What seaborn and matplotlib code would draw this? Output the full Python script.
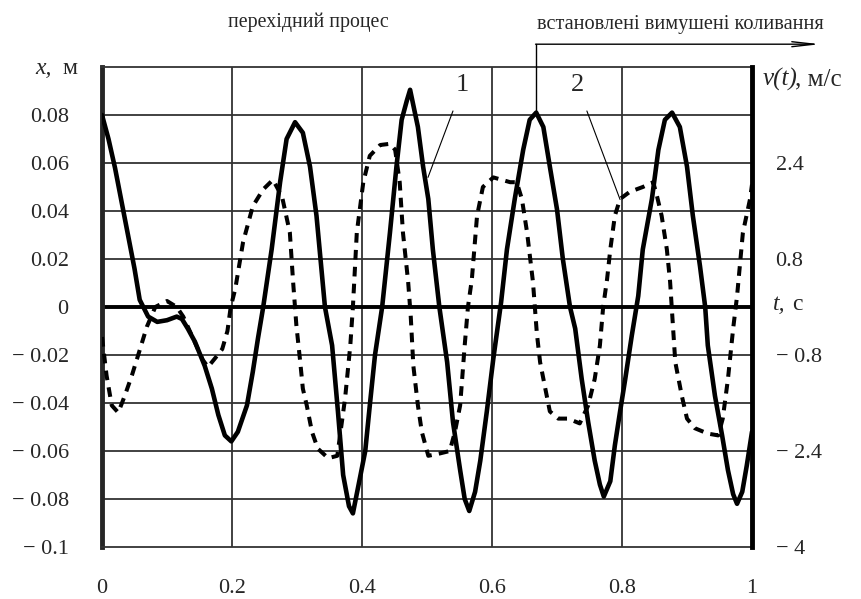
import numpy as np
import pandas as pd
import matplotlib
matplotlib.use("Agg")
import matplotlib.pyplot as plt
import seaborn as sns

# крива 1: переміщення x(t), м
t_x = [0.000, 0.010, 0.020, 0.030, 0.040, 0.050, 0.058, 0.071, 0.085, 0.100,
       0.115, 0.123, 0.132, 0.143, 0.158, 0.169, 0.179, 0.189, 0.199, 0.209,
       0.223, 0.232, 0.240, 0.248, 0.261, 0.274, 0.284, 0.297, 0.309, 0.320,
       0.330, 0.343, 0.354, 0.363, 0.371, 0.380, 0.386, 0.397, 0.405, 0.412,
       0.420, 0.431, 0.443, 0.453, 0.461, 0.469, 0.474, 0.486, 0.494, 0.502,
       0.509, 0.519, 0.531, 0.540, 0.551, 0.558, 0.565, 0.574, 0.582, 0.592,
       0.602, 0.614, 0.623, 0.635, 0.648, 0.658, 0.668, 0.679, 0.689, 0.700,
       0.709, 0.720, 0.728, 0.738, 0.748, 0.758, 0.766, 0.772, 0.782, 0.789,
       0.797, 0.805, 0.815, 0.825, 0.832, 0.846, 0.856, 0.866, 0.877, 0.889,
       0.900, 0.909, 0.920, 0.928, 0.932, 0.943, 0.954, 0.963, 0.971, 0.977,
       0.985, 0.992, 1.000]
x_disp = [0.080, 0.070, 0.058, 0.044, 0.030, 0.016, 0.003, -0.004, -0.0062, -0.0055,
          -0.004, -0.005, -0.009, -0.0145, -0.0245, -0.034, -0.045, -0.0535, -0.056, -0.052,
          -0.041, -0.027, -0.013, 0.000, 0.024, 0.052, 0.070, 0.077, 0.0726, 0.0585,
          0.038, 0.000, -0.016, -0.0436, -0.070, -0.083, -0.086, -0.071, -0.060, -0.041,
          -0.020, 0.000, 0.031, 0.0585, 0.078, 0.086, 0.0905, 0.075, 0.0585, 0.045,
          0.024, 0.000, -0.023, -0.048, -0.068, -0.080, -0.085, -0.077, -0.064, -0.0436,
          -0.0216, 0.002, 0.024, 0.045, 0.0655, 0.078, 0.081, 0.075, 0.0585, 0.0407,
          0.020, 0.000, -0.009, -0.030, -0.048, -0.064, -0.074, -0.079, -0.0726, -0.0577,
          -0.0436, -0.030, -0.012, 0.0046, 0.024, 0.045, 0.0655, 0.078, 0.081, 0.075,
          0.0585, 0.038, 0.017, 0.000, -0.016, -0.037, -0.0535, -0.068, -0.078, -0.082,
          -0.077, -0.066, -0.052]

# крива 2: швидкість v(t), м/с
t_v = [0.000, 0.007, 0.015, 0.025, 0.035, 0.046, 0.054, 0.069, 0.082, 0.100,
       0.115, 0.125, 0.135, 0.145, 0.155, 0.163, 0.175, 0.185, 0.193, 0.198,
       0.205, 0.217, 0.232, 0.248, 0.263, 0.277, 0.289, 0.294, 0.299, 0.305,
       0.309, 0.315, 0.323, 0.332, 0.348, 0.362, 0.368, 0.374, 0.382, 0.386,
       0.392, 0.402, 0.412, 0.428, 0.443, 0.451, 0.458, 0.463, 0.471, 0.475,
       0.479, 0.486, 0.492, 0.502, 0.520, 0.535, 0.543, 0.551, 0.558, 0.563,
       0.569, 0.577, 0.586, 0.602, 0.628, 0.638, 0.646, 0.654, 0.663, 0.669,
       0.674, 0.682, 0.689, 0.702, 0.717, 0.735, 0.748, 0.758, 0.766, 0.771,
       0.777, 0.782, 0.789, 0.797, 0.812, 0.832, 0.848, 0.854, 0.861, 0.869,
       0.874, 0.879, 0.882, 0.892, 0.900, 0.912, 0.932, 0.948, 0.955, 0.963,
       0.971, 0.977, 0.986, 0.997, 1.000]
v_vel = [-0.50, -1.14, -1.64, -1.76, -1.48, -1.14, -0.86, -0.33, 0.00, 0.10,
         0.00, -0.16, -0.40, -0.64, -0.88, -1.00, -0.84, -0.70, -0.40, 0.00,
         0.30, 1.08, 1.68, 1.96, 2.12, 1.84, 1.24, 0.42, -0.30, -0.92,
         -1.36, -1.64, -2.08, -2.36, -2.52, -2.48, -2.00, -1.52, -0.64, 0.00,
         1.24, 2.08, 2.52, 2.70, 2.72, 2.62, 2.08, 1.24, 0.42, -0.16,
         -0.98, -1.64, -2.08, -2.48, -2.44, -2.40, -2.08, -1.64, -0.64, 0.00,
         0.46, 1.52, 2.00, 2.16, 2.08, 2.08, 1.80, 1.24, 0.42, -0.44,
         -0.92, -1.36, -1.74, -1.86, -1.86, -1.94, -1.64, -1.20, -0.64, 0.00,
         0.46, 0.96, 1.52, 1.80, 1.92, 2.00, 2.08, 1.84, 1.52, 0.96,
         0.42, -0.42, -0.92, -1.48, -1.86, -2.02, -2.11, -2.14, -1.86, -1.20,
         -0.36, 0.18, 1.24, 1.80, 2.04]

x_ticks = [0, 0.2, 0.4, 0.6, 0.8, 1]
x_ticklabels = ["0", "0.2", "0.4", "0.6", "0.8", "1"]
y_ticks = [0.08, 0.06, 0.04, 0.02, 0, -0.02, -0.04, -0.06, -0.08, -0.1]
y_ticklabels = ["0.08", "0.06", "0.04", "0.02", "0",
                "\u2212 0.02", "\u2212 0.04", "\u2212 0.06", "\u2212 0.08", "\u2212 0.1"]
v_ticks = [2.4, 0.8, 0, -0.8, -2.4, -4]
v_ticklabels = ["2.4", "0.8", "", "\u2212 0.8", "\u2212 2.4", "\u2212 4"]

df_x = pd.DataFrame({"t": t_x, "x": x_disp})
df_v = pd.DataFrame({"t": t_v, "v": v_vel})

sns.set_style("white")
plt.rcParams["font.family"] = ["Liberation Serif", "DejaVu Serif"]

fig = plt.figure(figsize=(8.61, 5.99), dpi=100)
ax = fig.add_axes([102/861, 52/599, 650/861, 480/599])

# сітка
for yy in y_ticks[:-1]:
    if yy == 0:
        continue
    ax.axhline(yy, color="#333333", lw=1.3, zorder=1)
for xx in [0.2, 0.4, 0.6, 0.8]:
    ax.axvline(xx, color="#333333", lw=1.3, zorder=1)
ax.axhline(0, color="black", lw=2.8, zorder=2)

sns.lineplot(data=df_x, x="t", y="x", ax=ax, color="black", lw=3.3,
             sort=False, zorder=3, solid_joinstyle="round",
             solid_capstyle="round")
ax.set_xlim(0, 1)
ax.set_ylim(-0.1, 0.1)
ax.set_xticks(x_ticks)
ax.set_xticklabels(x_ticklabels)
ax.set_yticks(y_ticks)
ax.set_yticklabels(y_ticklabels)
ax.tick_params(axis="both", length=0, labelsize=16)
ax.tick_params(axis="y", pad=24)
ax.tick_params(axis="x", pad=23)
ax.set_xlabel("")
ax.set_ylabel("")
for s in ["top", "bottom"]:
    ax.spines[s].set_linewidth(1.3)
    ax.spines[s].set_color("#333333")
ax.spines["left"].set_linewidth(3.5)
ax.spines["right"].set_visible(False)

ax2 = ax.twinx()
sns.lineplot(data=df_v, x="t", y="v", ax=ax2, color="black", lw=2.9,
             sort=False, dash_joinstyle="round")
ax2.lines[0].set_dashes((2.4, 1.8))
ax2.set_ylim(-4, 4)
ax2.set_yticks(v_ticks)
ax2.set_yticklabels(v_ticklabels)
ax2.tick_params(axis="y", length=0, labelsize=16, pad=17)
ax2.set_ylabel("")
for s in ["top", "bottom", "left"]:
    ax2.spines[s].set_visible(False)
ax2.spines["right"].set_linewidth(3.5)
ax2.spines["right"].set_color("black")

# підписи осей
fig.text(35/861, 1 - 69/599, "x,", fontsize=17, style="italic", va="center")
fig.text(62/861, 1 - 69/599, "м", fontsize=17, va="center")
fig.text(763/861, 1 - 79/599, "v(t)", fontsize=18, style="italic", va="center")
fig.text(795/861, 1 - 79/599, ", м/с", fontsize=18, va="center")
fig.text(773/861, 1 - 304/599, "t,", fontsize=17, style="italic", va="center")
fig.text(792/861, 1 - 304/599, "c", fontsize=17, va="center")

# надписи над графіком
fig.text(308/861, 1 - 22/599, "перехідний процес", fontsize=14.3,
         ha="center", va="center")
fig.text(680/861, 1 - 25/599, "встановлені вимушені коливання", fontsize=14.6,
         ha="center", va="center")

t_split = 0.667
y_arrow = 0.1095
ax.plot([t_split, t_split], [0.081, y_arrow], color="black", lw=1.0,
        clip_on=False, zorder=4)
ax.annotate("", xy=(1.105, y_arrow), xytext=(t_split, y_arrow),
            xycoords="data", annotation_clip=False,
            arrowprops=dict(arrowstyle="->,head_length=1.6,head_width=0.18",
                            color="black", lw=1.0, shrinkA=0, shrinkB=0))

# номери кривих
ax.annotate("1", xy=(0.5015, 0.054), xytext=(0.555, 0.0925),
            fontsize=19, ha="center", va="center",
            arrowprops=dict(arrowstyle="-", color="black", lw=0.8,
                            shrinkA=9, shrinkB=0))
ax.annotate("2", xy=(0.797, 0.0448), xytext=(0.731, 0.0925),
            fontsize=19, ha="center", va="center",
            arrowprops=dict(arrowstyle="-", color="black", lw=0.8,
                            shrinkA=9, shrinkB=0))

fig.savefig("out.png", dpi=100)
